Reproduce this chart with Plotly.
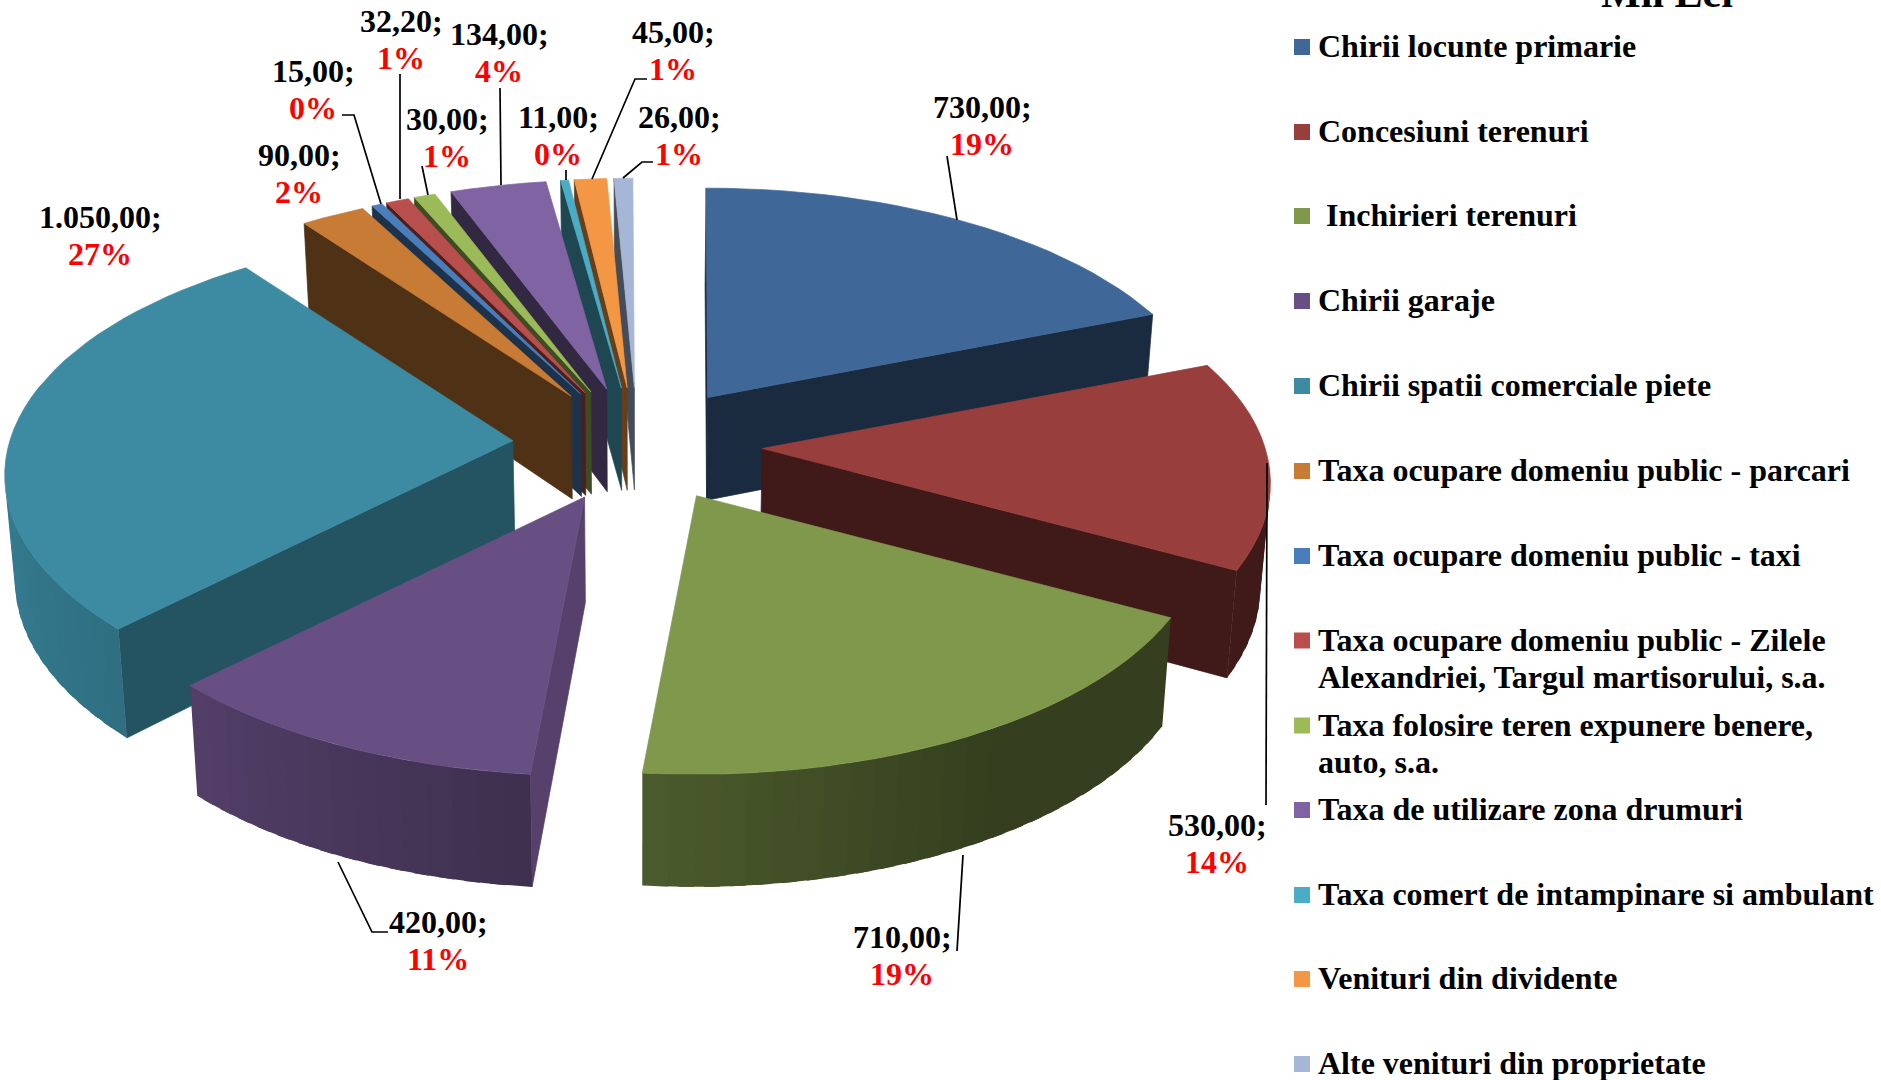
import numpy as np
import plotly.graph_objects as go

# ---- data ----
categories = ["Chirii locunte primarie", "Concesiuni terenuri", " Inchirieri terenuri", "Chirii garaje",
              "Chirii spatii comerciale piete", "Taxa ocupare domeniu public - parcari",
              "Taxa ocupare domeniu public - taxi",
              "Taxa ocupare domeniu public - Zilele<br>Alexandriei, Targul martisorului, s.a.",
              "Taxa folosire teren expunere benere,<br>auto, s.a.", "Taxa de utilizare zona drumuri",
              "Taxa comert de intampinare si ambulant", "Venituri din dividente",
              "Alte venituri din proprietate"]
values = [730, 530, 710, 420, 1050, 90, 15, 32.2, 30, 134, 11, 45, 26]
value_labels = ["730,00;", "530,00;", "710,00;", "420,00;", "1.050,00;", "90,00;", "15,00;", "32,20;",
                "30,00;", "134,00;", "11,00;", "45,00;", "26,00;"]
percent_labels = ["19%", "14%", "19%", "11%", "27%", "2%", "0%", "1%", "1%", "4%", "0%", "1%", "1%"]
top_colors = ["#3F6898", "#983F3D", "#7F984B", "#684F83", "#3C8BA3", "#C77B35", "#4A7EBB", "#B94F4C",
              "#9BBA58", "#7F63A2", "#4BACC6", "#F39745", "#A6B6D6"]

# ---- geometry of the projected pie (pixels) ----
CX, CY, EX, EY = 637.5, 445.0, 125.0, 57.5
RX0, RY0, PERSP, DEPTH = 503.0, 239.0, 0.142, 104.0
ROTATION_DEG = -0.2
# ---- label layout (pixels) ----
label_pos = [(982, 125), (1217, 843), (902, 955), (438, 940), (100, 235), (299, 173), (313, 89), (401, 39),
             (447, 137), (499, 52), (558, 135), (673, 50), (679, 135)]
leaders = [[(947, 156), (957, 220)], [(1266, 805), (1267, 463)], [(957, 951), (963, 855)],
           [(388, 932), (372, 932), (338, 862)], None, None, [(342, 115), (354, 115), (381, 204)],
           [(400, 74), (400, 199)], [(422, 166), (428, 195)], [(500, 88), (501, 185)], [(566, 170), (566, 180)],
           [(647, 79), (635, 79), (592, 179)], [(653, 162), (642, 162), (623, 178)]]
legend_y = [47, 132, 216, 301, 386, 471, 556, 659, 744, 810, 895, 979, 1064]


def rgb(hexc, f):
    h = hexc.lstrip("#")
    r, g, b = [int(h[i:i + 2], 16) for i in (0, 2, 4)]
    return f"rgb({int(r*f)},{int(g*f)},{int(b*f)})"


def top_pt(apex, a):
    Y = np.cos(a)
    s = 1 / (1 + PERSP * Y)
    return apex[0] + RX0 * np.sin(a) * s, apex[1] - RY0 * Y * s


def drop(pt):
    Y = (446 - pt[1]) / 236
    d = DEPTH * (1 - 0.06 * Y)
    return pt[0] - (pt[0] - CX) * 0.016, pt[1] + d


fig = go.Figure()


def poly(pts, color, outline=True):
    xs = [p[0] for p in pts] + [pts[0][0]]
    ys = [p[1] for p in pts] + [pts[0][1]]
    fig.add_trace(go.Scatter(x=xs, y=ys, mode="lines" if outline else "none", fill="toself", fillcolor=color,
                             line=dict(color=color, width=0.7), hoverinfo="skip", showlegend=False))


def visible(pts):
    s = 0
    for i in range(len(pts)):
        x0, y0 = pts[i]
        x1, y1 = pts[(i + 1) % len(pts)]
        s += x0 * y1 - x1 * y0
    return s < 0


total = sum(values)
bounds = np.concatenate([[0], np.cumsum(values)]) / total * 2 * np.pi + np.radians(ROTATION_DEG)
order = sorted(range(len(values)), key=lambda i: -np.cos((bounds[i] + bounds[i + 1]) / 2))
rim_deg = [90, 150, 185, 225, 270, 285]
rim_f = [.42, .42, .6, .8, .92, .92]
start_deg = [-1, 185, 225, 324, 360]
start_f = [.42, .83, .6, .4, .42]

for i in order:
    a0, a1 = bounds[i], bounds[i + 1]
    mid = (a0 + a1) / 2
    apex = (CX + EX * np.sin(mid), CY - EY * np.cos(mid))
    c = top_colors[i]
    n = max(2, int((a1 - a0) / np.radians(2.5)))
    angs = np.linspace(a0, a1, n + 1)
    step = angs[1] - angs[0]
    rim = [top_pt(apex, a) for a in angs]
    # radial faces
    f_start = [apex, rim[0], drop(rim[0]), drop(apex)]
    if visible(f_start):
        poly(f_start, rgb(c, np.interp(np.degrees(a0), start_deg, start_f)))
    f_end = [rim[-1], apex, drop(apex), drop(rim[-1])]
    if visible(f_end):
        poly(f_end, rgb(c, .42))
    # outer rim, shaded segment by segment; each piece runs under the next to hide seams
    for k in range(n):
        b0 = angs[k]
        b1 = min(angs[k + 1] + step * 0.6, a1)
        p0, p1 = top_pt(apex, b0), top_pt(apex, b1)
        q = [p0, p1, drop(p1), drop(p0)]
        if visible(q):
            poly(q, rgb(c, np.interp(np.degrees((angs[k] + angs[k + 1]) / 2), rim_deg, rim_f)), outline=False)
    poly([apex] + rim, c)

# leader lines
for seg in leaders:
    if seg:
        fig.add_trace(go.Scatter(x=[p[0] for p in seg], y=[p[1] for p in seg], mode="lines",
                                 line=dict(color="black", width=1.7), hoverinfo="skip", showlegend=False))

FONT = "Liberation Serif"
LINE = 37
# legend swatches
fig.add_trace(go.Scatter(x=[1302] * len(categories),
                         y=[y - (18.5 if "<br>" in t else 0) for y, t in zip(legend_y, categories)],
                         mode="markers", marker=dict(symbol="square", size=16, color=top_colors),
                         hoverinfo="skip", showlegend=False))

ann = []
for (x, y), v, p in zip(label_pos, value_labels, percent_labels):
    ann.append(dict(x=x, y=y - LINE / 2, xref="x", yref="y", xanchor="center", yanchor="middle", showarrow=False,
                    text=f"<b>{v}</b>", font=dict(family=FONT, size=32, color="black")))
    ann.append(dict(x=x, y=y + LINE / 2, xref="x", yref="y", xanchor="center", yanchor="middle", showarrow=False,
                    text=f"<b>{p}</b>", font=dict(family=FONT, size=32, color="#ff0000")))
for y, t in zip(legend_y, categories):
    lines = t.split("<br>")
    for j, line in enumerate(lines):
        yy = y - 1 + (j - (len(lines) - 1) / 2) * LINE
        txt = ("&nbsp;" + line[1:]) if line.startswith(" ") else line
        ann.append(dict(x=1316, y=yy, xref="x", yref="y", xanchor="left", yanchor="middle", showarrow=False,
                        align="left", text=f"<b>{txt}</b>", font=dict(family=FONT, size=32, color="black")))
ann.append(dict(x=1667, y=18, xref="x", yref="y", xanchor="center", yanchor="bottom", showarrow=False,
                text="<b>Mii Lei</b>", font=dict(family=FONT, size=42, color="black")))

fig.update_layout(width=1881, height=1080, margin=dict(l=0, r=0, t=0, b=0), paper_bgcolor="white",
                  plot_bgcolor="white", showlegend=False, annotations=ann,
                  xaxis=dict(range=[0, 1881], visible=False, fixedrange=True),
                  yaxis=dict(range=[1080, 0], visible=False, fixedrange=True))
fig.write_html("out.html", config=dict(displayModeBar=False),
               post_script="document.body.style.margin='0';document.body.style.overflow='hidden';")
